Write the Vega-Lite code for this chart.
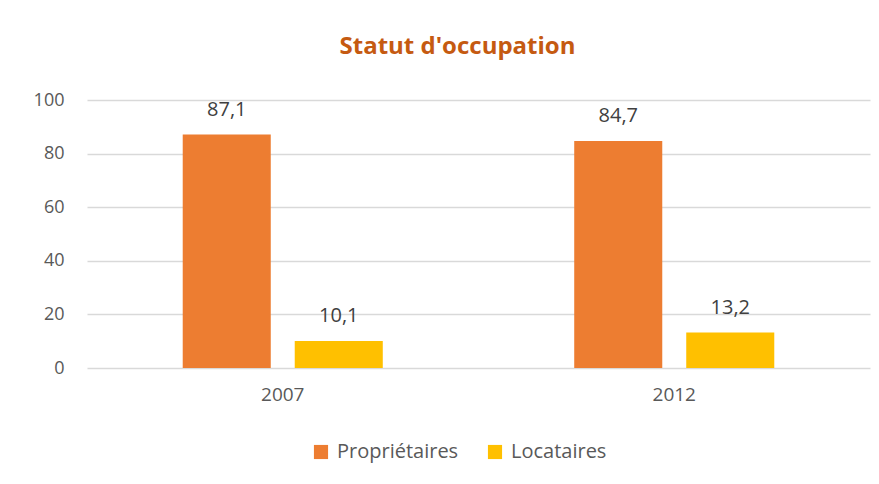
{
  "$schema": "https://vega.github.io/schema/vega-lite/v6.json",
  "width": 783,
  "height": 268,
  "autosize": {"type": "none"},
  "padding": {"left": 87, "top": 100, "right": 9, "bottom": 116},
  "background": "white",
  "config": {
    "font": "Open Sans",
    "view": {"stroke": null},
    "locale": {"number": {"decimal": ",", "thousands": " ", "grouping": [3], "currency": ["", " €"]}}
  },
  "title": {
    "text": "Statut d'occupation",
    "color": "#C55A11",
    "fontSize": 24,
    "fontWeight": "bold",
    "font": "Open Sans",
    "anchor": "middle",
    "dx": -21,
    "offset": 32
  },
  "data": {
    "values": [
      {"annee": "2007", "statut": "Propriétaires", "valeur": 87.1},
      {"annee": "2007", "statut": "Locataires", "valeur": 10.1},
      {"annee": "2012", "statut": "Propriétaires", "valeur": 84.7},
      {"annee": "2012", "statut": "Locataires", "valeur": 13.2}
    ]
  },
  "encoding": {
    "x": {
      "field": "annee",
      "type": "nominal",
      "scale": {"paddingInner": 0.489, "paddingOuter": 0.2445},
      "axis": {
        "title": null,
        "labelAngle": 0,
        "ticks": false,
        "domain": false,
        "labelFontSize": 19,
        "labelColor": "#595959",
        "labelPadding": 17
      }
    },
    "xOffset": {
      "field": "statut",
      "type": "nominal",
      "sort": ["Propriétaires", "Locataires"],
      "scale": {"paddingInner": 0.214, "paddingOuter": 0}
    },
    "y": {
      "field": "valeur",
      "type": "quantitative",
      "scale": {"domain": [0, 100]},
      "axis": {
        "title": null,
        "values": [0, 20, 40, 60, 80, 100],
        "ticks": false,
        "domain": false,
        "gridColor": "#D9D9D9",
        "gridWidth": 1.5,
        "labelFontSize": 18,
        "labelColor": "#595959",
        "labelPadding": 23
      }
    }
  },
  "layer": [
    {
      "mark": {"type": "bar"},
      "encoding": {
        "color": {
          "field": "statut",
          "type": "nominal",
          "sort": ["Propriétaires", "Locataires"],
          "scale": {"domain": ["Propriétaires", "Locataires"], "range": ["#ED7D31", "#FFC000"]},
          "legend": {
            "title": null,
            "orient": "none",
            "direction": "horizontal",
            "legendX": 224,
            "legendY": 342,
            "symbolType": "square",
            "symbolSize": 200,
            "symbolStrokeWidth": 0,
            "labelFontSize": 20,
            "labelColor": "#595959",
            "columnPadding": 26,
            "labelOffset": 6
          }
        }
      }
    },
    {
      "mark": {"type": "text", "baseline": "bottom", "dy": -15, "fontSize": 20, "color": "#404040"},
      "encoding": {
        "text": {"field": "valeur", "type": "quantitative", "format": ".1f"}
      }
    }
  ]
}
